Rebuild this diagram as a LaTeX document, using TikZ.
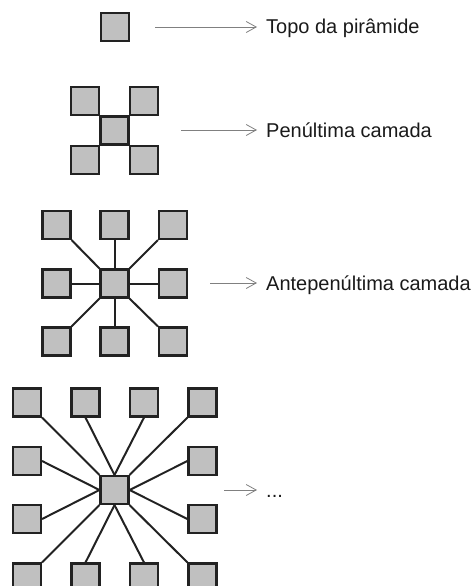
\documentclass[tikz,border=0pt]{standalone}
\usepackage{fontspec}
\setmainfont{Liberation Sans}
\usetikzlibrary{arrows.meta}
\definecolor{boxfill}{HTML}{C0C0C0}
\definecolor{boxline}{HTML}{222222}
\definecolor{arrowgray}{HTML}{808080}
\definecolor{textcol}{HTML}{1A1A1A}
\begin{document}
\begin{tikzpicture}[x=1pt,y=-1pt,
  sq/.style={draw=boxline,fill=boxfill,line width=2.1pt,minimum size=28pt,inner sep=0pt},
  link/.style={draw=boxline,line width=2pt},
  pointer/.style={draw=arrowgray,line width=0.8pt,-{Straight Barb[length=10pt,width=11pt]}},
  lbl/.style={anchor=west,inner xsep=9pt,inner ysep=0pt,text height=14pt,text depth=0pt,text=textcol,font=\fontsize{20}{24}\selectfont}]
\useasboundingbox (0,0) rectangle (474,586);
\clip (0,0) rectangle (474,586);

% Layer 1
\node[sq] (A) at (115,27) {};
\coordinate (Aa) at (155,27);
\node[lbl] (At) at (257,27) {Topo da pirâmide};
\draw[pointer] (Aa) -- (At.west);

% Layer 2
\node[sq] (Bc) at (114.5,130.5) {};
\node[sq] (Btl) at (85,101) {};
\node[sq] (Btr) at (144,101) {};
\node[sq] (Bbl) at (85,160) {};
\node[sq] (Bbr) at (144,160) {};
\coordinate (Ba) at (181,130);
\node[lbl] (Bt) at (257,130) {Penúltima camada};
\draw[pointer] (Ba) -- (Bt.west);

% Layer 3
\node[sq] (Cc) at (114.5,283.5) {};
\node[sq] (Ctl) at (56.5,225) {};
\node[sq] (Ct)  at (114.5,225) {};
\node[sq] (Ctr) at (173,225) {};
\node[sq] (Cl)  at (56.5,283.5) {};
\node[sq] (Cr)  at (173,283.5) {};
\node[sq] (Cbl) at (56.5,341.5) {};
\node[sq] (Cb)  at (114.5,341.5) {};
\node[sq] (Cbr) at (173,341.5) {};
\draw[link] (Ctl.south east) -- (Cc.north west);
\draw[link] (Ct.south) -- (Cc.north);
\draw[link] (Ctr.south west) -- (Cc.north east);
\draw[link] (Cl.east) -- (Cc.west);
\draw[link] (Cr.west) -- (Cc.east);
\draw[link] (Cbl.north east) -- (Cc.south west);
\draw[link] (Cb.north) -- (Cc.south);
\draw[link] (Cbr.north west) -- (Cc.south east);
\coordinate (Ca) at (210,283);
\node[lbl] (Ct2) at (257,283) {Antepenúltima camada};
\draw[pointer] (Ca) -- (Ct2.west);

% Layer 4
\node[sq] (Dc) at (114.5,490) {};
\node[sq] (D11) at (27,402.5) {};
\node[sq] (D12) at (85.5,402.5) {};
\node[sq] (D13) at (144,402.5) {};
\node[sq] (D14) at (202.5,402.5) {};
\node[sq] (D21) at (27,461) {};
\node[sq] (D24) at (202.5,461) {};
\node[sq] (D31) at (27,519) {};
\node[sq] (D34) at (202.5,519) {};
\node[sq] (D41) at (27,577.5) {};
\node[sq] (D42) at (85.5,577.5) {};
\node[sq] (D43) at (144,577.5) {};
\node[sq] (D44) at (202.5,577.5) {};
\draw[link] (D11.south east) -- (Dc.north west);
\draw[link] (D12.south) -- (Dc.north);
\draw[link] (D13.south) -- (Dc.north);
\draw[link] (D14.south west) -- (Dc.north east);
\draw[link] (D21.east) -- (Dc.west);
\draw[link] (D31.east) -- (Dc.west);
\draw[link] (D24.west) -- (Dc.east);
\draw[link] (D34.west) -- (Dc.east);
\draw[link] (D41.north east) -- (Dc.south west);
\draw[link] (D42.north) -- (Dc.south);
\draw[link] (D43.north) -- (Dc.south);
\draw[link] (D44.north west) -- (Dc.south east);
\coordinate (Da) at (224,490);
\node[lbl] (Dt) at (257,490) {...};
\draw[pointer] (Da) -- (Dt.west);
\end{tikzpicture}
\end{document}
